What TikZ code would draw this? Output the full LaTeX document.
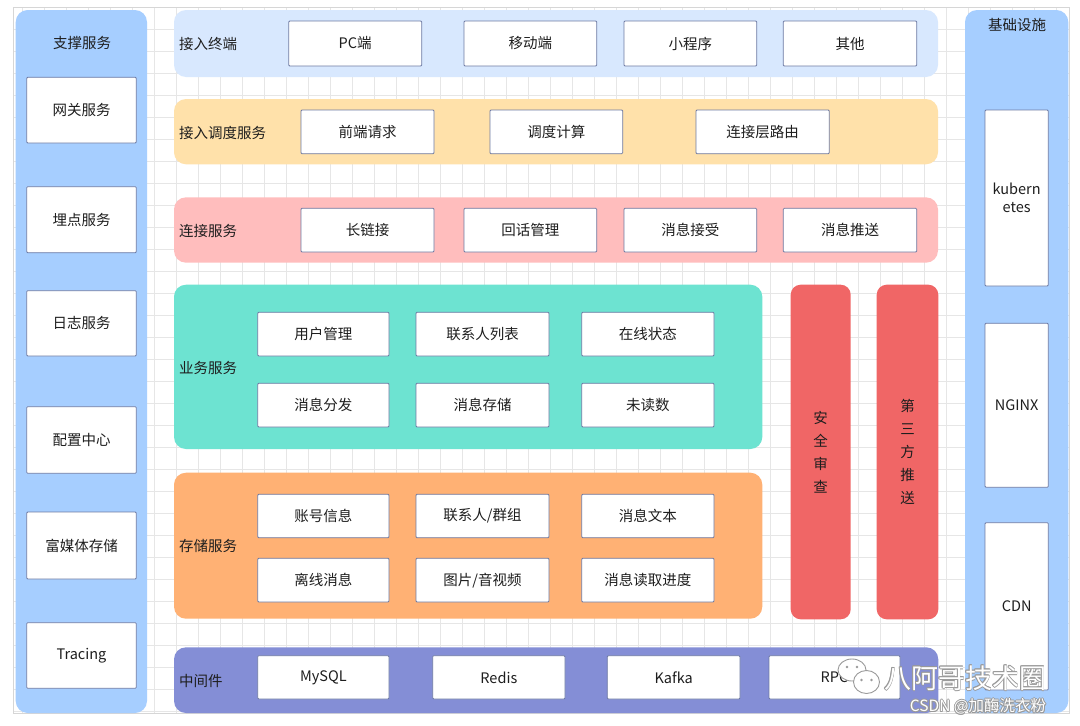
\documentclass[tikz,border=0pt]{standalone}
\usepackage{fontspec}
\setmainfont{Noto Sans CJK SC}
\definecolor{gridc}{HTML}{E6E6E6}
\definecolor{framec}{HTML}{D6D6D6}
\definecolor{sidec}{HTML}{A6CEFF}
\definecolor{rowa}{HTML}{D8E8FE}
\definecolor{rowb}{HTML}{FFE1AA}
\definecolor{rowc}{HTML}{FFBDBD}
\definecolor{rowd}{HTML}{6DE3D1}
\definecolor{rowe}{HTML}{FFB174}
\definecolor{rowf}{HTML}{848ED6}
\definecolor{redc}{HTML}{F06666}
\definecolor{edgec}{HTML}{6E7AA3}
\definecolor{txtc}{HTML}{1E1E1E}
\definecolor{wmc}{HTML}{9A9A9A}
\newcommand\mkbox[7]{\node[#2, minimum width={(#5-#3)*1pt}, minimum height={(#6-#4)*1pt}] (#1) at ({(#3+#5)/2},{(#4+#6)/2}) {#7};}
\newcommand\outlined[5]{% name, x, y, font size, text
  \foreach \dx/\dy in {-0.9/0,0.9/0,0/-0.9,0/0.9,-0.65/-0.65,0.65/0.65,-0.65/0.65,0.65/-0.65}
    \node[inner sep=0pt, text=wmc, font=\fontsize{#4}{#4}\selectfont] at (#2+\dx,#3+\dy) {#5};
  \node[inner sep=0pt, text=white, font=\fontsize{#4}{#4}\selectfont] (#1) at (#2,#3) {#5};}
\tikzset{
  panel/.style={fill=#1, draw=none, rounded corners=12pt, inner sep=0pt},
  ibox/.style={fill=white, draw=edgec, line width=0.8pt, rounded corners=1pt, inner sep=0pt, text=txtc, font=\fontsize{14.5}{18}\selectfont, align=center},
  lbl/.style={anchor=west, inner sep=0pt, text=txtc, font=\fontsize{14.5}{18}\selectfont},
  ttl/.style={inner sep=0pt, text=txtc, font=\fontsize{14.5}{18}\selectfont},
  vbar/.style={fill=redc, draw=none, rounded corners=10pt, inner sep=0pt, text=txtc, font=\fontsize{14.5}{23}\selectfont, align=center},
  gridline/.style={draw=gridc, line width=0.8pt},
}
\begin{document}
\begin{tikzpicture}[x=1pt, y=-1pt]
\useasboundingbox (0,0) rectangle (1080,726);
\fill[white] (0,0) rectangle (1080,726);
% grid
\foreach \i in {1,...,48} \draw[gridline] (22*\i,7.5) -- (22*\i,713.5);
\foreach \j in {0,...,31} \draw[gridline] (13,29.3+22*\j) -- (1069,29.3+22*\j);
\draw[draw=framec, line width=1pt] (13,7.5) rectangle (1069,713.5);

% side panels
\mkbox{supp}{panel=sidec}{15.7}{10}{147}{713}{}
\node[ttl] (suppT) at (82,43) {支撑服务};
\mkbox{gw}{ibox}{26.7}{77.3}{136.3}{143}{网关服务}
\mkbox{maidian}{ibox}{26.7}{186.7}{136.3}{252.7}{埋点服务}
\mkbox{log}{ibox}{26.7}{290.7}{136.3}{356}{日志服务}
\mkbox{conf}{ibox}{26.7}{406.7}{136.3}{473.3}{配置中心}
\mkbox{media}{ibox}{26.7}{512}{136.3}{579}{富媒体存储}
\mkbox{trace}{ibox}{26.7}{622.7}{136.3}{688.3}{Tracing}

\mkbox{infra}{panel=sidec}{965}{10}{1068.3}{713}{}
\node[ttl] (infraT) at (1017,25) {基础设施};
\mkbox{k8s}{ibox}{985}{110}{1048.3}{286}{kubern\\etes}
\mkbox{nginx}{ibox}{985}{323.3}{1048.3}{487.3}{NGINX}
\mkbox{cdn}{ibox}{985}{522.7}{1048.3}{690}{CDN}

% row 1
\mkbox{r1}{panel=rowa}{174}{10}{938}{77}{}
\node[lbl] (r1T) at (179,44) {接入终端};
\mkbox{pc}{ibox}{288.7}{21}{421.7}{66}{PC端}
\mkbox{mob}{ibox}{464}{21}{596.7}{66}{移动端}
\mkbox{mini}{ibox}{624}{21}{756.7}{66}{小程序}
\mkbox{other}{ibox}{783.3}{21}{916.7}{66}{其他}

% row 2
\mkbox{r2}{panel=rowb}{174}{99}{938}{164.3}{}
\node[lbl] (r2T) at (179,133) {接入调度服务};
\mkbox{req}{ibox}{301}{110}{434}{153.7}{前端请求}
\mkbox{sched}{ibox}{490}{110}{622.7}{153.7}{调度计算}
\mkbox{route}{ibox}{696}{110}{829.3}{153.7}{连接层路由}

% row 3
\mkbox{r3}{panel=rowc}{174}{197.3}{938}{262.7}{}
\node[lbl] (r3T) at (179,231) {连接服务};
\mkbox{longc}{ibox}{301}{208.3}{434}{252}{长链接}
\mkbox{sess}{ibox}{464}{208.3}{596.7}{252}{回话管理}
\mkbox{recv}{ibox}{624}{208.3}{756.7}{252}{消息接受}
\mkbox{push}{ibox}{783.3}{208.3}{916.7}{252}{消息推送}

% business
\mkbox{r4}{panel=rowd}{174}{284.7}{762.3}{449}{}
\node[lbl] (r4T) at (179,368) {业务服务};
\mkbox{user}{ibox}{257.7}{312.3}{389}{356}{用户管理}
\mkbox{contact}{ibox}{416}{312.3}{549}{356}{联系人列表}
\mkbox{online}{ibox}{581.7}{312.3}{714}{356}{在线状态}
\mkbox{dispatch}{ibox}{257.7}{383.3}{389}{427}{消息分发}
\mkbox{store}{ibox}{416}{383.3}{549}{427}{消息存储}
\mkbox{unread}{ibox}{581.7}{383.3}{714}{427}{未读数}

% storage
\mkbox{r5}{panel=rowe}{174}{472.7}{762.3}{618.7}{}
\node[lbl] (r5T) at (179,546) {存储服务};
\mkbox{acct}{ibox}{257.7}{494.3}{389}{537.7}{账号信息}
\mkbox{group}{ibox}{416}{494.3}{549}{537.7}{联系人/群组}
\mkbox{text}{ibox}{581.7}{494.3}{714}{537.7}{消息文本}
\mkbox{offline}{ibox}{257.7}{558.3}{389}{602}{离线消息}
\mkbox{img}{ibox}{416}{558.3}{549}{602}{图片/音视频}
\mkbox{progress}{ibox}{581.7}{558.3}{714}{602}{消息读取进度}

% red bars
\mkbox{sec}{vbar}{790.7}{284.7}{850.7}{619.3}{安\\全\\审\\查}
\mkbox{third}{vbar}{876.7}{284.7}{938.3}{619.3}{第\\三\\方\\推\\送}

% middleware
\mkbox{r6}{panel=rowf}{174}{647.3}{938.3}{713}{}
\node[lbl] (r6T) at (179,681) {中间件};
\mkbox{mysql}{ibox}{257.7}{655.7}{389}{699}{MySQL}
\mkbox{redis}{ibox}{432.7}{655.7}{565}{699}{Redis}
\mkbox{kafka}{ibox}{607.3}{655.7}{740}{699}{Kafka}
\mkbox{rpc}{ibox}{769}{655.7}{900}{699}{RPC}

% watermark
\begin{scope}[draw=wmc, line width=0.9pt]
\filldraw[fill=white] (852,670) ellipse (14 and 11);
\fill[wmc] (847,667) circle (1.4) (857,667) circle (1.4);
\filldraw[fill=white] (866.5,682) ellipse (13 and 11.5);
\fill[wmc] (861.5,680) circle (1.3) (871.5,680) circle (1.3);
\end{scope}
\outlined{wm1}{965}{678}{27}{八阿哥技术圈}
\outlined{wm2}{978}{706.5}{15.5}{CSDN @加酶洗衣粉}
\end{tikzpicture}
\end{document}
